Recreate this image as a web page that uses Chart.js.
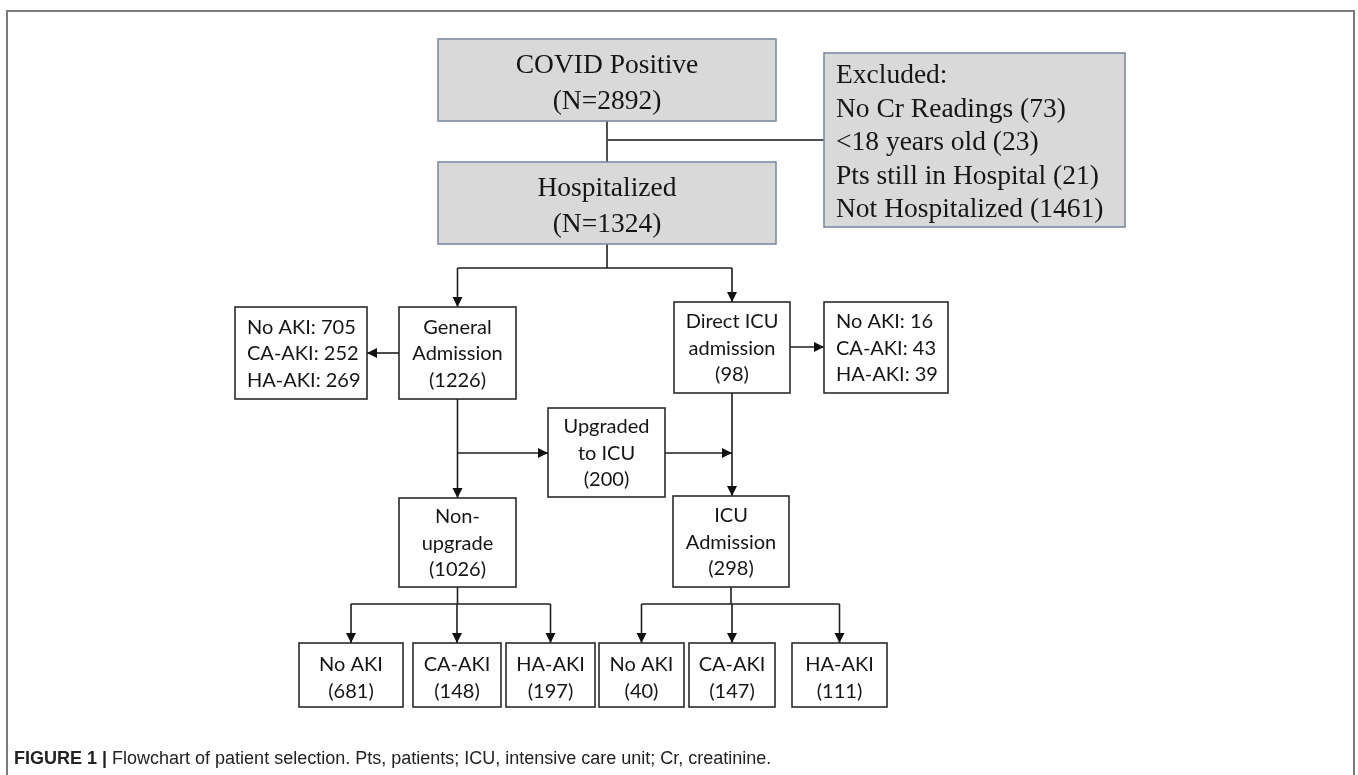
<!DOCTYPE html>
<html>
<head>
<meta charset="utf-8">
<script src="https://cdn.jsdelivr.net/npm/chart.js@4/dist/chart.umd.min.js"></script>
<style>
  html, body { margin: 0; padding: 0; background: #fff; }
  #flow { display: block; }
</style>
</head>
<body>
<canvas id="flow" width="1358" height="775"></canvas>
<script>
// ---- data ----
const stages = ['COVID Positive', 'Hospitalized', 'General Admission', 'Direct ICU admission', 'Upgraded to ICU', 'Non-upgrade', 'ICU Admission'];
const stageCounts = [2892, 1324, 1226, 98, 200, 1026, 298];
const excludedReasons = ['No Cr Readings', '<18 years old', 'Pts still in Hospital', 'Not Hospitalized'];
const excludedCounts = [73, 23, 21, 1461];
const akiTypes = ['No AKI', 'CA-AKI', 'HA-AKI'];
const generalAki = [705, 252, 269];
const directAki = [16, 43, 39];
const nonUpgradeAki = [681, 148, 197];
const icuAki = [40, 147, 111];
const caption = 'Flowchart of patient selection. Pts, patients; ICU, intensive care unit; Cr, creatinine.';

// ---- layout (x1, y1, x2, y2 in axis units) ----
const layout = {
    covid:    [438, 39, 776, 121],
    hosp:     [438, 162, 776, 244],
    excl:     [824, 53, 1125, 227],
    genAki:   [235, 307, 367, 399],
    general:  [399, 307, 516, 399],
    direct:   [674, 302, 790, 393],
    dirAki:   [824, 302, 948, 393],
    upgraded: [548, 408, 665, 497],
    nonUp:    [399, 498, 516, 587],
    icu:      [673, 496, 789, 587],
    nonUpKids: [[299, 643, 403, 707], [413, 643, 501, 707], [506, 643, 595, 707]],
    icuKids:   [[599, 643, 684, 707], [689, 643, 775, 707], [792, 643, 887, 707]]
};

const serif = '"Liberation Serif", "Times New Roman", serif';
const sans = 'Lato, "Open Sans", sans-serif';

function buildNodes() {
    let nodes = [];
    nodes.push({r: layout.covid, lines: [stages[0], '(N=' + stageCounts[0] + ')'], grey: true});
    nodes.push({r: layout.hosp, lines: [stages[1], '(N=' + stageCounts[1] + ')'], grey: true});
    nodes.push({r: layout.excl, lines: ['Excluded:'].concat(excludedReasons.map((t, i) => t + ' (' + excludedCounts[i] + ')')), grey: true, left: true});
    nodes.push({r: layout.genAki, lines: akiTypes.map((t, i) => t + ': ' + generalAki[i]), left: true});
    nodes.push({r: layout.general, lines: ['General', 'Admission', '(' + stageCounts[2] + ')']});
    nodes.push({r: layout.direct, lines: ['Direct ICU', 'admission', '(' + stageCounts[3] + ')']});
    nodes.push({r: layout.dirAki, lines: akiTypes.map((t, i) => t + ': ' + directAki[i]), left: true});
    nodes.push({r: layout.upgraded, lines: ['Upgraded', 'to ICU', '(' + stageCounts[4] + ')']});
    nodes.push({r: layout.nonUp, lines: ['Non-', 'upgrade', '(' + stageCounts[5] + ')']});
    nodes.push({r: layout.icu, lines: ['ICU', 'Admission', '(' + stageCounts[6] + ')']});
    akiTypes.forEach((t, i) => nodes.push({r: layout.nonUpKids[i], lines: [t, '(' + nonUpgradeAki[i] + ')'], shift: 2}));
    akiTypes.forEach((t, i) => nodes.push({r: layout.icuKids[i], lines: [t, '(' + icuAki[i] + ')'], shift: 2}));
    return nodes;
}

const cx = r => (r[0] + r[2]) / 2;

function buildLinks() {
    const L = layout;
    // each link: list of points, arrow at the end or not, grey connector or black
    let links = [];
    let xc = cx(L.covid);
    links.push({p: [[xc, L.covid[3]], [xc, L.hosp[1]]], grey: true});
    links.push({p: [[xc, 140], [L.excl[0], 140]], grey: true});
    links.push({p: [[xc, L.hosp[3]], [xc, 268]]});
    links.push({p: [[cx(L.general), 268], [cx(L.direct), 268]]});
    links.push({p: [[cx(L.general), 268], [cx(L.general), L.general[1]]], arrow: true});
    links.push({p: [[cx(L.direct), 268], [cx(L.direct), L.direct[1]]], arrow: true});
    links.push({p: [[L.general[0], 353], [L.genAki[2], 353]], arrow: true});
    links.push({p: [[L.direct[2], 347], [L.dirAki[0], 347]], arrow: true});
    links.push({p: [[cx(L.general), L.general[3]], [cx(L.general), L.nonUp[1]]], arrow: true});
    links.push({p: [[cx(L.general), 453], [L.upgraded[0], 453]], arrow: true});
    links.push({p: [[L.upgraded[2], 453], [cx(L.direct), 453]], arrow: true});
    links.push({p: [[cx(L.direct), L.direct[3]], [cx(L.direct), L.icu[1]]], arrow: true});
    [[L.nonUp, L.nonUpKids], [L.icu, L.icuKids]].forEach(([parent, kids]) => {
        let px = cx(parent);
        links.push({p: [[px, parent[3]], [px, 604]]});
        links.push({p: [[cx(kids[0]), 604], [cx(kids[2]), 604]]});
        kids.forEach(k => links.push({p: [[cx(k), 604], [cx(k), k[1]]], arrow: true}));
    });
    return links;
}

const flowPlugin = {
    id: 'flow',
    afterDraw(chart) {
        const ctx = chart.ctx;
        const xs = chart.scales.x, ys = chart.scales.y;
        const px = v => xs.getPixelForValue(v);
        const py = v => ys.getPixelForValue(v);
        ctx.save();

        // outer frame
        ctx.strokeStyle = '#7a7a7a';
        ctx.lineWidth = 2;
        ctx.strokeRect(px(7), py(11), px(1354) - px(7), py(800) - py(11));

        // connectors
        buildLinks().forEach(l => {
            ctx.strokeStyle = l.grey ? '#505050' : '#1e1e1e';
            ctx.lineWidth = l.grey ? 2 : 1.6;
            ctx.beginPath();
            l.p.forEach((pt, i) => {
                if (i === 0) ctx.moveTo(px(pt[0]), py(pt[1]));
                else ctx.lineTo(px(pt[0]), py(pt[1]));
            });
            ctx.stroke();
            if (l.arrow) {
                let a = l.p[l.p.length - 2], b = l.p[l.p.length - 1];
                let x1 = px(a[0]), y1 = py(a[1]), x2 = px(b[0]), y2 = py(b[1]);
                let ang = Math.atan2(y2 - y1, x2 - x1);
                let len = 10, half = 5;
                ctx.fillStyle = '#111';
                ctx.beginPath();
                ctx.moveTo(x2, y2);
                ctx.lineTo(x2 - len * Math.cos(ang) + half * Math.sin(ang), y2 - len * Math.sin(ang) - half * Math.cos(ang));
                ctx.lineTo(x2 - len * Math.cos(ang) - half * Math.sin(ang), y2 - len * Math.sin(ang) + half * Math.cos(ang));
                ctx.closePath();
                ctx.fill();
            }
        });

        // boxes
        buildNodes().forEach(n => {
            let x1 = px(n.r[0]), y1 = py(n.r[1]), x2 = px(n.r[2]), y2 = py(n.r[3]);
            ctx.fillStyle = n.grey ? '#d9d9d9' : '#ffffff';
            ctx.fillRect(x1, y1, x2 - x1, y2 - y1);
            ctx.strokeStyle = n.grey ? '#7c8ba3' : '#2a2a2a';
            ctx.lineWidth = 1.6;
            ctx.strokeRect(x1, y1, x2 - x1, y2 - y1);

            let step, font, off;
            if (n.grey) {
                step = n.left ? 33.5 : 36;
                font = '27.5px ' + serif;
                off = n.left ? 3 : 4;
            } else {
                step = 26.5;
                font = '20px ' + sans;
                off = 1 + (n.shift || 0);
            }
            ctx.font = font;
            ctx.fillStyle = '#151515';
            ctx.textBaseline = 'middle';
            let mid = (y1 + y2) / 2 + off;
            let top = mid - step * (n.lines.length - 1) / 2;
            n.lines.forEach((t, i) => {
                if (n.left) {
                    ctx.textAlign = 'left';
                    ctx.fillText(t, x1 + 12, top + i * step);
                } else {
                    ctx.textAlign = 'center';
                    ctx.fillText(t, (x1 + x2) / 2, top + i * step);
                }
            });
        });

        // caption
        ctx.textAlign = 'left';
        ctx.textBaseline = 'middle';
        ctx.fillStyle = '#222';
        ctx.font = 'bold 18px "Liberation Sans", Arial, sans-serif';
        let head = 'FIGURE 1 | ';
        ctx.fillText(head, px(14), py(759));
        let w = ctx.measureText(head).width;
        ctx.font = '18px "Liberation Sans", Arial, sans-serif';
        ctx.fillText(caption, px(14) + w, py(759));

        ctx.restore();
    }
};

new Chart(document.getElementById('flow').getContext('2d'), {
    type: 'scatter',
    data: { datasets: [{ data: [], showLine: false }] },
    options: {
        responsive: false,
        animation: false,
        layout: { padding: 0 },
        plugins: { legend: { display: false }, tooltip: { enabled: false } },
        scales: {
            x: { type: 'linear', min: 0, max: 1358, display: false },
            y: { type: 'linear', min: 0, max: 775, reverse: true, display: false }
        }
    },
    plugins: [flowPlugin]
});
</script>
</body>
</html>
